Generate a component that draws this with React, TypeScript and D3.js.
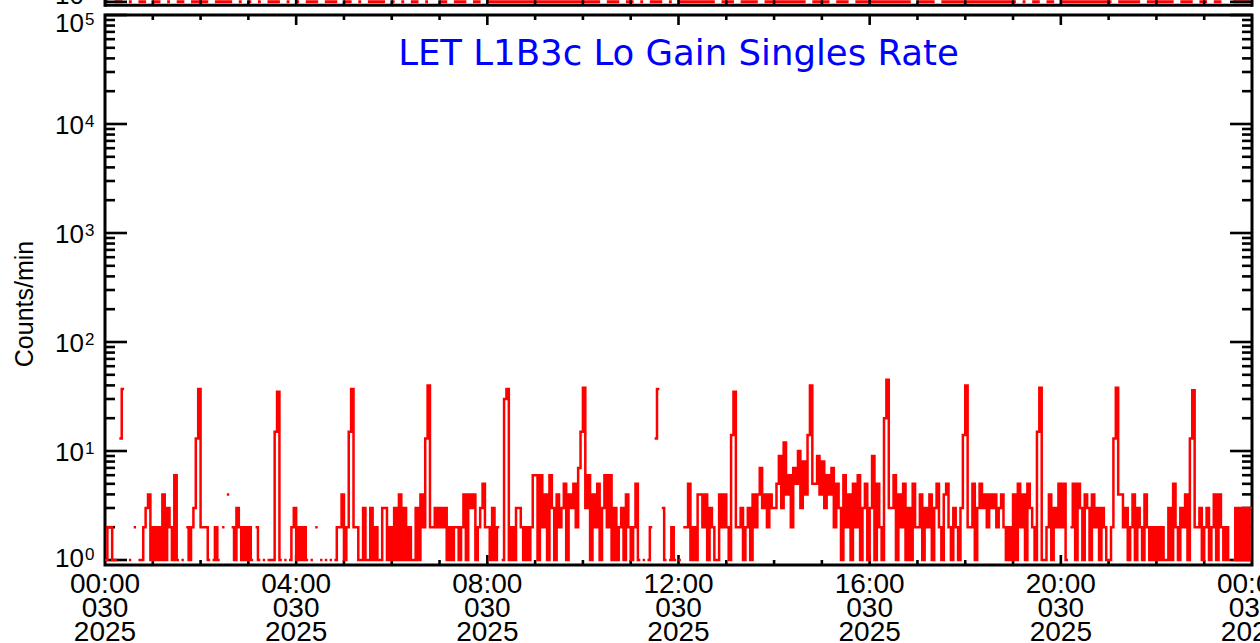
import React from "react";
import * as d3 from "d3";

// ---------------- data ----------------
// counts per minute, one value per 3-minute bin (20 bins per hour); 0 = no data (gap)
const binMinutes = 3;
const countsPerHour: number[][] = [
  [1, 2, 2, 1, 1, 0, 13, 37, 0, 0, 1, 0, 2, 0, 1, 1, 2, 3, 4, 1], // 00h
  [2, 1, 2, 1, 4, 1, 3, 2, 1, 6, 1, 0, 1, 0, 2, 1, 2, 3, 13, 37], // 01h
  [2, 2, 2, 1, 0, 1, 2, 1, 0, 2, 0, 4, 0, 2, 1, 3, 2, 1, 2, 1], // 02h
  [2, 1, 0, 2, 1, 0, 1, 0, 1, 1, 1, 15, 35, 1, 0, 1, 0, 1, 2, 3], // 03h
  [1, 2, 1, 2, 1, 0, 1, 0, 2, 0, 1, 0, 1, 0, 1, 0, 1, 2, 2, 4], // 04h
  [1, 2, 15, 37, 2, 2, 1, 1, 3, 1, 1, 3, 1, 2, 1, 1, 3, 3, 1, 2], // 05h
  [1, 3, 1, 4, 1, 3, 1, 2, 1, 1, 3, 1, 4, 2, 13, 40, 2, 2, 3, 2], // 06h
  [3, 2, 3, 1, 2, 1, 2, 2, 1, 2, 4, 1, 4, 3, 4, 1, 2, 3, 5, 2], // 07h
  [2, 1, 3, 1, 2, 0, 1, 30, 37, 1, 2, 1, 3, 3, 2, 1, 2, 1, 2, 6], // 08h
  [6, 1, 6, 2, 4, 1, 6, 3, 1, 4, 2, 3, 5, 1, 4, 3, 5, 2, 7, 15], // 09h
  [38, 3, 6, 1, 4, 2, 5, 1, 3, 6, 2, 6, 1, 3, 1, 2, 3, 1, 4, 2], // 10h
  [1, 2, 5, 1, 0, 1, 0, 1, 2, 0, 13, 37, 0, 3, 1, 0, 1, 2, 1, 0], // 11h
  [1, 0, 2, 2, 5, 1, 2, 1, 4, 4, 2, 4, 1, 3, 2, 1, 1, 4, 2, 4], // 12h
  [2, 1, 14, 35, 2, 2, 3, 1, 2, 3, 1, 4, 2, 4, 7, 3, 4, 2, 4, 3], // 13h
  [3, 5, 9, 3, 12, 4, 6, 2, 7, 5, 10, 3, 8, 4, 14, 40, 5, 5, 9, 4], // 14h
  [8, 3, 6, 4, 7, 2, 5, 3, 1, 6, 2, 4, 1, 5, 2, 6, 1, 3, 5, 1], // 15h
  [3, 9, 1, 5, 2, 1, 20, 45, 3, 3, 6, 1, 4, 2, 5, 1, 3, 1, 5, 2], // 16h
  [2, 4, 1, 3, 2, 4, 1, 3, 5, 2, 1, 4, 5, 2, 1, 3, 2, 1, 3, 14], // 17h
  [40, 2, 2, 5, 1, 3, 5, 3, 4, 2, 4, 3, 4, 2, 3, 4, 2, 1, 2, 1], // 18h
  [4, 1, 5, 2, 4, 1, 5, 3, 2, 1, 15, 38, 1, 1, 2, 4, 1, 3, 2, 5], // 19h
  [2, 5, 1, 0, 2, 5, 1, 5, 3, 1, 4, 3, 1, 4, 2, 3, 1, 3, 2, 1], // 20h
  [1, 2, 13, 38, 4, 4, 2, 3, 1, 2, 4, 1, 3, 2, 1, 4, 2, 1, 2, 1], // 21h
  [2, 1, 2, 1, 1, 3, 1, 5, 2, 1, 3, 2, 4, 1, 13, 36, 2, 2, 3, 1], // 22h
  [2, 3, 1, 2, 4, 1, 4, 2, 1, 2, 1, 0, 1, 3, 1, 3, 1, 3, 1, 3], // 23h
];

// the panel above (only its bottom edge is visible): 1 = count at 10^0, 0 = gap; 6-minute bins
const upperBinMinutes = 6;
const upperStripPerHour: string[] = [
  "1011010110", "1101011011", "1101111010", "1010111010", "1011101110", "1101011110",
  "1010110100", "1101110110", "1111111111", "1111111111", "1111011101", "1010111010",
  "1111111101", "1101111011", "1111111011", "1101110111", "1111111110", "1111011111",
  "1111111111", "1010110110", "1111111111", "1011111011", "1111011101", "1011001111",
];

const tickHours = [0, 4, 8, 12, 16, 20, 24];
const tickTimeLabels = ["00:00", "04:00", "08:00", "12:00", "16:00", "20:00", "00:00"];
const tickDayLabels = ["030", "030", "030", "030", "030", "030", "030"];
const tickYearLabels = ["2025", "2025", "2025", "2025", "2025", "2025", "2025"];
const decadeExponents = [0, 1, 2, 3, 4, 5];
const yDomain: [number, number] = [0.9, 1e5];
const upperYDomain: [number, number] = [0.93, 1e5];
const titleText = "LET L1B3c Lo Gain Singles Rate";
const yAxisTitle = "Counts/min";

type Pt = { h: number; v: number };

function buildStepPath(
  pts: Pt[],
  binHours: number,
  xs: (h: number) => number,
  ys: (v: number) => number
) {
  const segs: Pt[][] = [];
  let cur: Pt[] = [];
  for (const p of pts) {
    if (p.v > 0) cur.push(p);
    else {
      if (cur.length) segs.push(cur);
      cur = [];
    }
  }
  if (cur.length) segs.push(cur);
  const line = d3
    .line<Pt>()
    .x((d) => xs(d.h))
    .y((d) => ys(d.v))
    .curve(d3.curveStepAfter);
  return segs
    .map((s) => {
      const last = s[s.length - 1];
      return line([...s, { h: last.h + binHours, v: last.v }]);
    })
    .join("");
}

export default function App() {
  const W = 1260;
  const H = 643;
  const L = 105;
  const R = 1252;
  const T = 15;
  const B = 565;
  const UB = 5.3;

  const x = d3.scaleLinear().domain([0, 24]).range([L, R]);
  const y = d3.scaleLog().domain(yDomain).range([B, T]);
  const yU = d3.scaleLog().domain(upperYDomain).range([UB, UB - (B - T)]);

  const counts = countsPerHour.flat();
  const pts: Pt[] = counts.map((v, i) => ({ h: (i * binMinutes) / 60, v }));
  const mainPath = buildStepPath(pts, binMinutes / 60, x, y);

  const upperVals = upperStripPerHour.join("").split("").map(Number);
  const upts: Pt[] = upperVals.map((v, i) => ({ h: (i * upperBinMinutes) / 60, v }));
  const upperPath = buildStepPath(upts, (upperBinMinutes / 60) * 0.6, x, yU);

  const hourTicks = d3.range(1, 24);
  const minorVals: number[] = [];
  for (let k = 0; k < 5; k++) for (let m = 2; m <= 9; m++) minorVals.push(m * Math.pow(10, k));

  const labelFont = "'Liberation Sans', Arial, sans-serif";
  const axisW = 3;
  const tickW = 2.6;

  const labelBaseline = (k: number) => {
    if (k === 5) return T + 17;
    if (k === 0) return y(1) + 6.5;
    return y(Math.pow(10, k)) + 9.5;
  };

  return (
    <svg
      width={W}
      height={H}
      style={{ position: "absolute", left: 0, top: 0, background: "#fff" }}
      xmlns="http://www.w3.org/2000/svg"
    >
      <rect x={0} y={0} width={W} height={H} fill="#fff" />

      {/* upper panel remnant */}
      <path d={upperPath} fill="none" stroke="#ff0000" strokeWidth={3} strokeLinejoin="round" />
      <line x1={L} y1={UB} x2={R} y2={UB} stroke="#000" strokeWidth={axisW} />
      <line x1={L} y1={UB + 1.5} x2={L} y2={-10} stroke="#000" strokeWidth={axisW} />
      <line x1={R} y1={UB + 1.5} x2={R} y2={-10} stroke="#000" strokeWidth={axisW} />
      <line x1={L} y1={yU(1)} x2={L + 22} y2={yU(1)} stroke="#000" strokeWidth={tickW} />
      <line x1={R} y1={yU(1)} x2={R - 22} y2={yU(1)} stroke="#000" strokeWidth={tickW} />
      {hourTicks.map((hh) => (
        <line
          key={"ut" + hh}
          x1={x(hh)}
          x2={x(hh)}
          y1={UB}
          y2={UB - (hh % 4 === 0 ? 10 : 5)}
          stroke="#000"
          strokeWidth={tickW}
        />
      ))}
      <g fontFamily={labelFont} fill="#000">
        <text x={84} y={UB - 1} fontSize={26} textAnchor="end">10</text>
        <text x={85} y={UB - 8} fontSize={17}>0</text>
      </g>

      {/* main panel frame */}
      <rect x={L} y={T} width={R - L} height={B - T} fill="none" stroke="#000" strokeWidth={axisW} />

      {/* x ticks */}
      {hourTicks.map((hh) => {
        const len = hh % 4 === 0 ? 10 : 5;
        return (
          <g key={"xt" + hh}>
            <line x1={x(hh)} x2={x(hh)} y1={B} y2={B - len} stroke="#000" strokeWidth={tickW} />
            <line x1={x(hh)} x2={x(hh)} y1={T} y2={T + len} stroke="#000" strokeWidth={tickW} />
          </g>
        );
      })}

      {/* y ticks */}
      {decadeExponents.map((k) => {
        const yy = y(Math.pow(10, k));
        return (
          <g key={"yt" + k}>
            <line x1={L} x2={L + 22} y1={yy} y2={yy} stroke="#000" strokeWidth={tickW} />
            <line x1={R} x2={R - 22} y1={yy} y2={yy} stroke="#000" strokeWidth={tickW} />
          </g>
        );
      })}
      {minorVals.map((v) => {
        const yy = y(v);
        return (
          <g key={"ym" + v}>
            <line x1={L} x2={L + 10} y1={yy} y2={yy} stroke="#000" strokeWidth={tickW} />
            <line x1={R} x2={R - 10} y1={yy} y2={yy} stroke="#000" strokeWidth={tickW} />
          </g>
        );
      })}

      {/* data */}
      <path
        d={mainPath}
        fill="none"
        stroke="#ff0000"
        strokeWidth={2.5}
        strokeLinejoin="miter"
        strokeLinecap="butt"
      />

      {/* y tick labels */}
      <g fontFamily={labelFont} fill="#000">
        {decadeExponents.map((k) => {
          const base = labelBaseline(k);
          return (
            <g key={"yl" + k}>
              <text x={84} y={base} fontSize={26} textAnchor="end">10</text>
              <text x={85} y={base - 7} fontSize={17}>{String(k)}</text>
            </g>
          );
        })}
      </g>

      {/* x tick labels */}
      <g fontFamily={labelFont} fontSize={28} fill="#000" textAnchor="middle">
        {tickHours.map((hh, i) => (
          <g key={"xl" + hh}>
            <text x={x(hh)} y={593}>{tickTimeLabels[i]}</text>
            <text x={x(hh)} y={617}>{tickDayLabels[i]}</text>
            <text x={x(hh)} y={641}>{tickYearLabels[i]}</text>
          </g>
        ))}
      </g>

      {/* y axis title */}
      <text
        transform={`translate(33, ${(T + B) / 2 + 14}) rotate(-90)`}
        fontFamily={labelFont}
        fontSize={25}
        textAnchor="middle"
        fill="#000"
      >
        {yAxisTitle}
      </text>

      {/* title */}
      <text
        x={(L + R) / 2}
        y={65}
        fontFamily="'DejaVu Sans', sans-serif"
        fontSize={35.5}
        textAnchor="middle"
        fill="#0000ff"
      >
        {titleText}
      </text>
    </svg>
  );
}
